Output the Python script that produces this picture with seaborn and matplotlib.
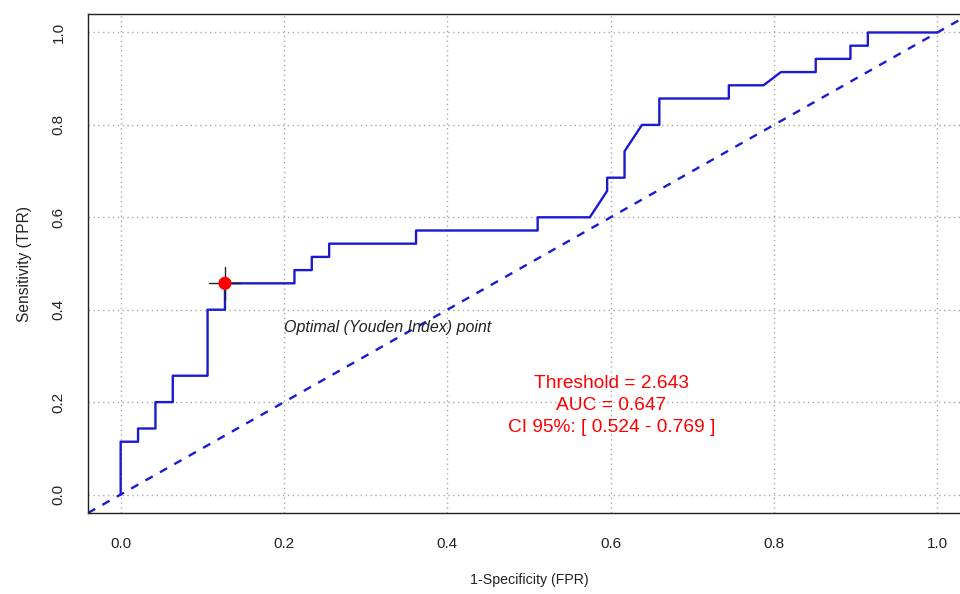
import numpy as np
import pandas as pd
import seaborn as sns
from matplotlib import pyplot as plt

# ROC curve
fpr = [0.0, 0.0, 0.0213, 0.0213, 0.0426, 0.0426, 0.0638, 0.0638, 0.1064, 0.1064,
       0.1277, 0.1277, 0.2128, 0.2128, 0.234, 0.234, 0.2553, 0.2553, 0.3617, 0.3617,
       0.5106, 0.5106, 0.5745, 0.5957, 0.5957, 0.617, 0.617, 0.6383, 0.6596, 0.6596,
       0.7447, 0.7447, 0.7872, 0.8085, 0.8511, 0.8511, 0.8936, 0.8936, 0.9149, 0.9149, 1.0]
tpr = [0.0, 0.1143, 0.1143, 0.1429, 0.1429, 0.2, 0.2, 0.2571, 0.2571, 0.4,
       0.4, 0.4571, 0.4571, 0.4857, 0.4857, 0.5143, 0.5143, 0.5429, 0.5429, 0.5714,
       0.5714, 0.6, 0.6, 0.6571, 0.6857, 0.6857, 0.7429, 0.8, 0.8, 0.8571,
       0.8571, 0.8857, 0.8857, 0.9143, 0.9143, 0.9429, 0.9429, 0.9714, 0.9714, 1.0, 1.0]

best_fpr = 0.1277
best_tpr = 0.4571
fpr_ci = [0.108, 0.146]
tpr_ci = [0.422, 0.493]

threshold = 2.643
auc = 0.647
auc_ci = [0.524, 0.769]

ticks = [0.0, 0.2, 0.4, 0.6, 0.8, 1.0]
tick_labels = ["0.0", "0.2", "0.4", "0.6", "0.8", "1.0"]

blue = "#1a1ad2"

sns.set_style("white")
plt.rcParams['font.family'] = ['Liberation Sans', 'DejaVu Sans']

roc = pd.DataFrame({'fpr': fpr, 'tpr': tpr})

fig = plt.figure(figsize=(9.6, 5.94), dpi=100)
ax = fig.add_axes([88 / 960, 81 / 594, 882 / 960, 499 / 594])

for t in ticks:
    ax.axvline(t, color="#a8a8a8", lw=1, ls=(0, (1, 2.5)), zorder=0)
    ax.axhline(t, color="#a8a8a8", lw=1, ls=(0, (1, 2.5)), zorder=0)

ax.axline((0, 0), (1, 1), color=blue, lw=1.7, ls=(0, (3.5, 3.5)), zorder=2)

sns.lineplot(data=roc, x='fpr', y='tpr', sort=False, estimator=None,
             color=blue, lw=1.7, ax=ax, zorder=3)

ax.plot(fpr_ci, [best_tpr, best_tpr], color="#222222", lw=1, zorder=4)
ax.plot([best_fpr, best_fpr], tpr_ci, color="#222222", lw=1, zorder=4)
sns.scatterplot(x=[best_fpr], y=[best_tpr], color="red", s=90, edgecolor="none",
                ax=ax, zorder=5)

ax.text(0.2, 0.361, "Optimal (Youden Index) point", fontsize=11.5,
        style='italic', color="#222222", va='center', ha='left')

ax.text(0.601, 0.241, f"Threshold = {threshold}", color="red", fontsize=13.8,
        ha='center', va='center')
ax.text(0.601, 0.192, f"AUC = {auc}", color="red", fontsize=13.8,
        ha='center', va='center')
ax.text(0.601, 0.144, f"CI 95%: [ {auc_ci[0]} - {auc_ci[1]} ]", color="red",
        fontsize=13.8, ha='center', va='center')

ax.set_xlim(-0.04, 1.04)
ax.set_ylim(-0.04, 1.04)
ax.set_xticks(ticks)
ax.set_xticklabels(tick_labels)
ax.set_yticks(ticks)
ax.set_yticklabels(tick_labels, rotation=90, va='center')
ax.tick_params(axis='both', direction='out', length=5, width=1, color="#333333",
               labelsize=11, labelcolor="#222222")
ax.tick_params(axis='x', pad=12)
ax.tick_params(axis='y', pad=11)

for s in ax.spines.values():
    s.set_color("#222222")
    s.set_linewidth(1)

ax.set_xlabel("1-Specificity (FPR)", fontsize=10.2, labelpad=16, color="#222222")
ax.set_ylabel("Sensitivity (TPR)", fontsize=11.2, labelpad=14, color="#222222")

fig.savefig("out.png", dpi=100)
